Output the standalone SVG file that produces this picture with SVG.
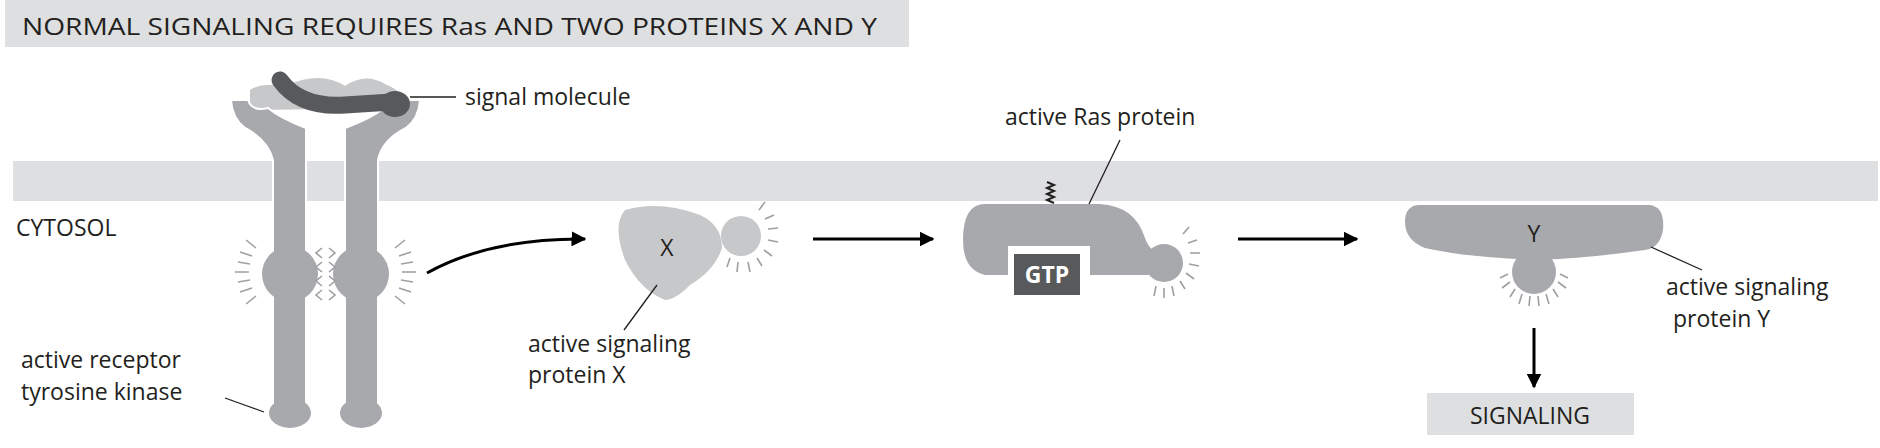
<svg xmlns="http://www.w3.org/2000/svg" width="1880" height="448" viewBox="0 0 1880 448">
<style>
text{font-family:"Open Sans","Liberation Sans",sans-serif;fill:#231f20;font-size:23px}
.p{fill:#a7a9ac}
.l{fill:#c7c8ca}
.ray{stroke:#9d9fa2;stroke-width:1.6;fill:none}
.lead{stroke:#231f20;stroke-width:1.3;fill:none}
.arr{stroke:#000;stroke-width:3;fill:none;marker-end:url(#ah)}
</style>
<defs>
<marker id="ah" viewBox="0 0 10 10" refX="9" refY="5" markerWidth="5" markerHeight="5" orient="auto"><path d="M0,0L10,5L0,10z" fill="#000"/></marker>
</defs>
<rect x="5" y="0" width="904" height="47" fill="#dedfe0"/>
<text x="22" y="35" font-size="24" textLength="855" lengthAdjust="spacingAndGlyphs">NORMAL SIGNALING REQUIRES Ras AND TWO PROTEINS X AND Y</text>
<rect x="13" y="161" width="1865" height="40" fill="#dedfe0"/>
<text x="16" y="236" font-size="22">CYTOSOL</text>

<g id="receptor">
<path class="l" d="M250,90 Q262,82 285,86 Q320,70 345,86 Q365,72 385,84 Q405,92 408,108 L250,110 Z"/>
<path class="p" d="M231,100 Q232,118 245,128 Q268,140 273,160 L273,410 L306,410 L306,128 Q280,118 268,108 Q252,112 248,100 Z" stroke="#fff" stroke-width="2"/>
<path class="p" d="M420,100 Q419,118 406,128 Q382,140 378,160 L378,410 L345,410 L345,128 Q372,118 384,108 Q400,112 404,100 Z" stroke="#fff" stroke-width="2"/>
<path d="M280,80 Q300,108 345,105 L392,102" fill="none" stroke="#58595b" stroke-width="17" stroke-linecap="round"/>
<ellipse cx="395" cy="104" rx="15" ry="13" fill="#58595b"/>
<ellipse class="p" cx="290" cy="274" rx="28" ry="28"/>
<ellipse class="p" cx="361" cy="274" rx="28" ry="28"/>
<ellipse class="p" cx="290" cy="413" rx="21" ry="15"/>
<ellipse class="p" cx="361" cy="413" rx="21" ry="15"/>
<path class="ray" d="M256,248l-10,-8M252,256l-12,-4M250,264l-12,-2M249,272l-14,0M250,280l-12,2M252,288l-12,4M256,296l-10,8M395,248l10,-8M399,256l12,-4M401,264l12,-2M402,272l14,0M401,280l12,2M399,288l12,4M395,296l10,8"/>
<path class="ray" d="M322,248l-6,5l6,5M329,248l6,5l-6,5M322,262l-6,5l6,5M329,262l6,5l-6,5M322,276l-6,5l6,5M329,276l6,5l-6,5M322,290l-6,5l6,5M329,290l6,5l-6,5"/>
<text x="465" y="105">signal molecule</text>
<text x="21" y="368">active receptor</text>
<text x="21" y="400">tyrosine kinase</text>
</g>

<g id="proteinX">
<path class="l" d="M625,210 Q660,200 700,215 Q722,225 722,248 Q715,270 690,285 Q675,300 665,300 Q640,290 625,260 Q612,225 625,210 Z"/>
<circle class="l" cx="741" cy="236" r="20"/>
<path class="ray" d="M759,210l6,-8M765,219l9,-4M768,229l10,-1M768,240l10,2M764,250l8,6M757,258l5,8M748,262l2,10M738,262l-1,10M730,258l-3,9"/>
<text x="667" y="256" text-anchor="middle" font-size="24">X</text>
<text x="528" y="352">active signaling</text>
<text x="528" y="383">protein X</text>
</g>

<g id="ras">
<path d="M1054,203 l-7,-3 l7,-3 l-7,-3 l7,-3 l-7,-3 l7,-3 l-7,-3" stroke="#231f20" stroke-width="2" fill="none"/>
<path class="p" d="M985,204 L1100,204 Q1135,206 1145,238 Q1150,252 1160,252 L1160,275 L1090,275 L1090,246 L1008,246 L1008,275 L985,275 Q963,270 963,240 Q963,204 985,204 Z"/>
<circle class="p" cx="1164" cy="263" r="19"/>
<path class="ray" d="M1183,234l6,-7M1188,243l9,-3M1190,253l10,0M1189,264l10,2M1186,273l8,6M1180,281l5,8M1172,286l2,10M1164,288l0,10M1156,286l-2,10"/>
<rect x="1010" y="251" width="74" height="46" fill="#fff"/>
<rect x="1014" y="254" width="66" height="41" fill="#58595b"/>
<text x="1047" y="283" text-anchor="middle" font-weight="bold" font-size="22" style="fill:#fff">GTP</text>
<text x="1005" y="125">active Ras protein</text>
</g>

<g id="proteinY">
<circle class="p" cx="1534" cy="272" r="22"/>
<path class="p" d="M1420,205 L1650,205 Q1665,207 1663,230 Q1660,248 1645,250 Q1590,258 1540,260 Q1470,258 1425,248 Q1405,240 1405,222 Q1405,205 1420,205 Z"/>
<path class="ray" d="M1508,274l-8,4M1510,282l-8,6M1515,289l-5,8M1522,294l-3,10M1530,296l-1,10M1538,296l1,10M1546,294l3,10M1553,289l5,8M1558,282l8,6M1560,274l8,4"/>
<text x="1534" y="242" text-anchor="middle" font-size="24">Y</text>
<text x="1666" y="295">active signaling</text>
<text x="1673" y="327">protein Y</text>
</g>

<g id="signaling">
<rect x="1427" y="393" width="207" height="42" fill="#dedfe0"/>
<text x="1530" y="424" text-anchor="middle" font-size="22">SIGNALING</text>
</g>

<g id="connectors">
<path class="arr" d="M427,273 Q490,238 585,239"/>
<path class="arr" d="M813,239 L933,239"/>
<path class="arr" d="M1238,239 L1357,239"/>
<path class="arr" d="M1534,328 L1534,387"/>
<path class="lead" d="M410,97 L456,97"/>
<path class="lead" d="M225,398 L264,412"/>
<path class="lead" d="M657,285 L624,330"/>
<path class="lead" d="M1120,140 L1089,204"/>
<path class="lead" d="M1651,247 L1702,270"/>
</g>
</svg>
